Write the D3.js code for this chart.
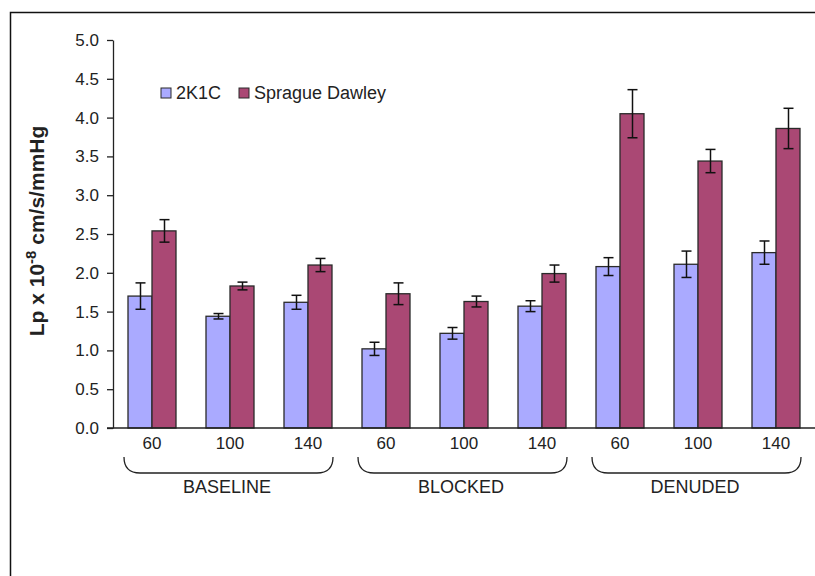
<!DOCTYPE html>
<html>
<head>
<meta charset="utf-8">
<script src="https://cdn.jsdelivr.net/npm/d3@7"></script>
<style>
  html, body { margin: 0; padding: 0; background: #fff; }
  svg { display: block; }
  text { font-family: "Liberation Sans", Arial, sans-serif; fill: #222; }
</style>
</head>
<body>
<svg id="chart" width="815" height="576"></svg>
<script>
// Hydraulic conductivity (Lp) by pressure (cmH2O) and condition
const groups = ["BASELINE", "BLOCKED", "DENUDED"];
const pressures = ["60", "100", "140"];
const seriesNames = ["2K1C", "Sprague Dawley"];

// Means, in group order (BASELINE 60/100/140, BLOCKED 60/100/140, DENUDED 60/100/140)
const k2c1Values = [1.70, 1.44, 1.62, 1.02, 1.22, 1.57, 2.08, 2.11, 2.26];
const k2c1Errors = [0.17, 0.035, 0.09, 0.085, 0.075, 0.07, 0.115, 0.17, 0.15];
const sdValues   = [2.54, 1.83, 2.10, 1.73, 1.63, 1.99, 4.05, 3.44, 3.86];
const sdErrors   = [0.145, 0.05, 0.085, 0.14, 0.07, 0.11, 0.31, 0.15, 0.26];

const yTicks = [0, 0.5, 1, 1.5, 2, 2.5, 3, 3.5, 4, 4.5, 5];
const colors = ["#AAAAFF", "#AA4874"];

const categories = [];
groups.forEach((g, gi) => pressures.forEach((p, pi) => categories.push({ key: g + "-" + p, group: g, label: p, i: gi * 3 + pi })));

const svg = d3.select("#chart");

// Outer frame (left and top edges)
svg.append("path")
  .attr("d", "M10.5,576V12.5H815")
  .attr("fill", "none").attr("stroke", "#111").attr("stroke-width", 1.5);

const plot = { left: 113, right: 815, top: 40, bottom: 428 };

const x = d3.scaleBand().domain(categories.map(c => c.key)).range([plot.left, plot.right]).padding(0);
const xs = d3.scaleBand().domain(seriesNames).range([15, 63]).padding(0);
const y = d3.scaleLinear().domain([0, 5]).range([plot.bottom, plot.top]);

// Bars
const seriesData = [
  { name: seriesNames[0], values: k2c1Values, errors: k2c1Errors, color: colors[0] },
  { name: seriesNames[1], values: sdValues, errors: sdErrors, color: colors[1] }
];

seriesData.forEach(s => {
  const g = svg.append("g");
  categories.forEach((c, i) => {
    const bx = x(c.key) + xs(s.name);
    g.append("rect")
      .attr("x", bx).attr("y", y(s.values[i]))
      .attr("width", xs.bandwidth()).attr("height", y(0) - y(s.values[i]))
      .attr("fill", s.color).attr("stroke", "#2a2a2a").attr("stroke-width", 1.3);
  });
});

// Error bars
seriesData.forEach(s => {
  const g = svg.append("g").attr("stroke", "#111").attr("stroke-width", 1.5);
  categories.forEach((c, i) => {
    const cx = Math.round(x(c.key) + xs(s.name) + xs.bandwidth() / 2) + 0.5;
    const hi = y(s.values[i] + s.errors[i]);
    const lo = y(s.values[i] - s.errors[i]);
    g.append("line").attr("x1", cx).attr("x2", cx).attr("y1", hi).attr("y2", lo);
    g.append("line").attr("x1", cx - 5).attr("x2", cx + 5).attr("y1", hi).attr("y2", hi);
    g.append("line").attr("x1", cx - 5).attr("x2", cx + 5).attr("y1", lo).attr("y2", lo);
  });
});

// Y axis
const yAxis = svg.append("g")
  .attr("transform", `translate(${plot.left},0)`)
  .call(d3.axisLeft(y).tickValues(yTicks).tickFormat(d3.format(".1f")).tickSize(6).tickSizeOuter(0).tickPadding(8));
yAxis.select(".domain").attr("stroke", "#222").attr("stroke-width", 1.3);
yAxis.selectAll(".tick line").attr("stroke", "#222").attr("stroke-width", 1.3);
yAxis.selectAll(".tick text")
  .attr("font-size", 17).attr("font-family", "'Liberation Sans', Arial, sans-serif").attr("fill", "#222");

// X axis baseline
svg.append("line")
  .attr("x1", plot.left - 6).attr("x2", plot.right)
  .attr("y1", y(0)).attr("y2", y(0))
  .attr("stroke", "#222").attr("stroke-width", 1.3);

// Pressure labels
svg.append("g").selectAll("text").data(categories).join("text")
  .attr("x", c => x(c.key) + x.bandwidth() / 2)
  .attr("y", y(0) + 21)
  .attr("text-anchor", "middle")
  .attr("font-size", 17)
  .text(c => c.label);

// Group braces and labels
groups.forEach((g, gi) => {
  const first = categories[gi * 3], last = categories[gi * 3 + 2];
  const x0 = x(first.key) + x.bandwidth() / 2 - 28;
  const x1 = x(last.key) + x.bandwidth() / 2 + 25;
  const top = y(0) + 29, bot = y(0) + 45, r = 16;
  svg.append("path")
    .attr("d", `M${x0},${top} Q${x0},${bot} ${x0 + r},${bot} L${x1 - r},${bot} Q${x1},${bot} ${x1},${top}`)
    .attr("fill", "none").attr("stroke", "#222").attr("stroke-width", 1.3);
  svg.append("text")
    .attr("x", (x(first.key) + x(last.key) + x.bandwidth()) / 2 - 3)
    .attr("y", y(0) + 65)
    .attr("text-anchor", "middle")
    .attr("font-size", 18)
    .text(g);
});

// Y axis title
const title = svg.append("text")
  .attr("transform", "translate(44,231) rotate(-90)")
  .attr("text-anchor", "middle")
  .attr("font-size", 21)
  .attr("font-weight", "bold");
title.append("tspan").text("Lp x 10");
title.append("tspan").attr("font-size", 15).attr("dy", -8).text("-8");
title.append("tspan").attr("dy", 8).text(" cm/s/mmHg");

// Legend
const legend = svg.append("g").attr("transform", "translate(161,88)");
const legendX = [0, 78];
seriesData.forEach((s, i) => {
  const item = legend.append("g").attr("transform", `translate(${legendX[i]},0)`);
  item.append("rect").attr("width", 10).attr("height", 10)
    .attr("fill", s.color).attr("stroke", "#2a2a2a").attr("stroke-width", 1);
  item.append("text").attr("x", 15).attr("y", 10.5).attr("font-size", 18).text(s.name);
});
</script>
</body>
</html>
